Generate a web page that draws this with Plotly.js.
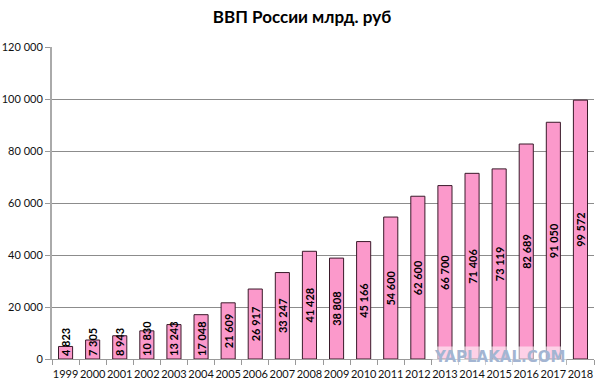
<!DOCTYPE html>
<html>
<head>
<meta charset="utf-8">
<script src="https://cdn.plot.ly/plotly-3.0.1.min.js"></script>
<style>html,body{margin:0;padding:0;background:#fff;}#chart{width:604px;height:388px;}</style>
</head>
<body>
<div id="chart"></div>
<script>
const years = ['1999','2000','2001','2002','2003','2004','2005','2006','2007','2008','2009','2010','2011','2012','2013','2014','2015','2016','2017','2018'];
const gdp = [4823,7305,8943,10830,13243,17048,21609,26917,33247,41428,38808,45166,54600,62600,66700,71406,73119,82689,91050,99572];
const yTicks = [0,20000,40000,60000,80000,100000,120000];

// labels of short bars sit at the bar base (they do not fit centred)
const baseLabelLimit = 20000;
const fmt = v => String(v).replace(/\B(?=(\d{3})+(?!\d))/g, ' ');
const bigText = gdp.map(v => v >= baseLabelLimit ? fmt(v) : '');
const smallYears = years.filter((y, i) => gdp[i] < baseLabelLimit);
const smallVals = gdp.filter(v => v < baseLabelLimit);
const smallText = smallVals.map(fmt);

const labelFont = {family: 'Lato, "Liberation Sans", sans-serif', size: 11, color: '#000', weight: 'bold'};

const bars = {
  type: 'bar',
  x: years,
  y: gdp,
  marker: {color: '#fb99cb', line: {color: '#3a1a2a', width: 1}},
  text: bigText,
  texttemplate: '%{text}',
  textposition: 'inside',
  insidetextanchor: 'middle',
  textangle: -90,
  constraintext: 'none',
  textfont: labelFont,
  hoverinfo: 'none'
};

const baseLabels = {
  type: 'bar',
  x: smallYears,
  y: smallVals,
  marker: {color: 'rgba(0,0,0,0)', line: {width: 0}},
  text: smallText,
  texttemplate: '%{text}',
  textposition: 'inside',
  insidetextanchor: 'start',
  textangle: -90,
  constraintext: 'none',
  textfont: labelFont,
  cliponaxis: false,
  hoverinfo: 'none'
};

const layout = {
  width: 604, height: 388,
  margin: {l: 52, r: 10, t: 47, b: 29},
  paper_bgcolor: '#fff', plot_bgcolor: '#fff',
  separators: ', ',
  showlegend: false,
  barmode: 'overlay',
  bargap: 0.48,
  font: {family: 'Lato, "Liberation Sans", sans-serif', size: 11, color: '#222'},
  title: {text: 'ВВП России млрд. руб', x: 0.5, xanchor: 'center', y: 0.955, yanchor: 'middle',
          font: {family: 'Lato, "Noto Sans", sans-serif', size: 17, color: '#000', weight: 'bold'}},
  xaxis: {
    type: 'category',
    showline: true, linecolor: '#999', linewidth: 1,
    ticks: 'outside', tickson: 'boundaries', ticklen: 5, tickcolor: '#999',
    tickangle: 0, ticklabelstandoff: 5,
    showgrid: false,
    tickfont: {size: 11, color: '#111'}
  },
  yaxis: {
    range: [0, 120000],
    tickvals: yTicks,
    tickformat: ',d',
    showline: true, linecolor: '#aaa', linewidth: 2,
    ticks: 'outside', ticklen: 5, tickcolor: '#999',
    showgrid: true, gridcolor: '#8c8c8c', gridwidth: 1,
    zeroline: false,
    tickfont: {size: 11, color: '#111'}
  },
  annotations: [{
    text: 'YAPLAKAL.COM', xref: 'paper', yref: 'paper', x: 0.826, y: 0.005, xanchor: 'center', yanchor: 'middle',
    showarrow: false, bgcolor: 'rgba(255,255,255,0.55)', borderpad: 1,
    font: {family: '"DejaVu Sans", sans-serif', size: 15, color: '#a3b5d2', weight: 'bold'}
  }]
};

Plotly.newPlot('chart', [bars, baseLabels], layout, {displayModeBar: false, staticPlot: true});
</script>
</body>
</html>
